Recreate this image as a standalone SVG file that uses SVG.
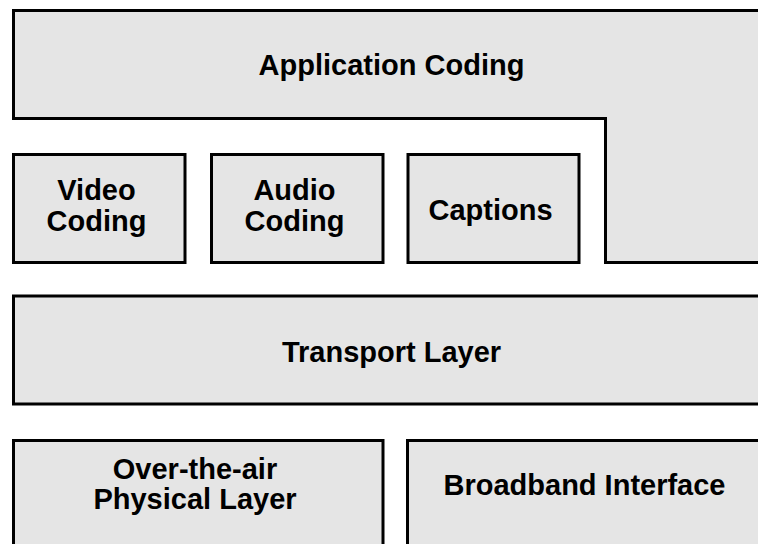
<svg xmlns="http://www.w3.org/2000/svg" width="758" height="544" viewBox="0 0 758 544">
<style>
.box{fill:#e5e5e5;stroke:#000;stroke-width:3}
.lbl{font-family:"Liberation Sans",Arial,sans-serif;font-weight:bold;font-size:29px;fill:#000;text-anchor:middle}
</style>
<rect width="758" height="544" fill="#fff"/>
<g id="application-coding">
<path class="box" d="M13.5,10.5 H772 V262.5 H605.5 V118.5 H13.5 Z"/>
<text class="lbl" x="391.5" y="75">Application Coding</text>
</g>
<g id="video-coding">
<rect class="box" x="13.5" y="154.5" width="171.5" height="108"/>
<text class="lbl" x="96.5" y="200">Video</text>
<text class="lbl" x="96.5" y="231">Coding</text>
</g>
<g id="audio-coding">
<rect class="box" x="211.5" y="154.5" width="171.5" height="108"/>
<text class="lbl" x="294.5" y="200">Audio</text>
<text class="lbl" x="294.5" y="231">Coding</text>
</g>
<g id="captions">
<rect class="box" x="408" y="154.5" width="171" height="108"/>
<text class="lbl" x="490.5" y="220">Captions</text>
</g>
<g id="transport-layer">
<rect class="box" x="13.5" y="296" width="758" height="108"/>
<text class="lbl" x="391.5" y="361.5">Transport Layer</text>
</g>
<g id="over-the-air">
<rect class="box" x="13.5" y="440.5" width="369.5" height="120"/>
<text class="lbl" x="195" y="479">Over-the-air</text>
<text class="lbl" x="195" y="509">Physical Layer</text>
</g>
<g id="broadband-interface">
<rect class="box" x="407.5" y="440.5" width="360" height="120"/>
<text class="lbl" x="584.5" y="495">Broadband Interface</text>
</g>
<g id="connectors"></g>
</svg>
